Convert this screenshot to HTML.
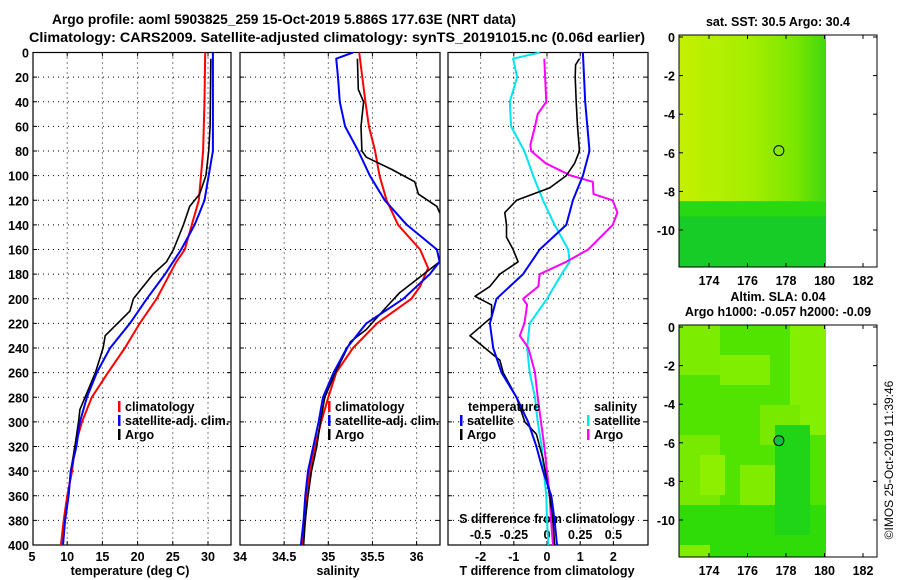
<!DOCTYPE html>
<html><head><meta charset="utf-8"><style>
html,body{margin:0;padding:0;background:#fff;}
svg{display:block;font-family:"Liberation Sans",Arial,sans-serif;font-weight:bold;}
</style></head><body>
<svg id="c" width="900" height="580" viewBox="0 0 900 580" xmlns="http://www.w3.org/2000/svg">
<defs>
<clipPath id="cp1"><rect x="33" y="52" width="198" height="493"/></clipPath>
<clipPath id="cp2"><rect x="240" y="52" width="200" height="493"/></clipPath>
<clipPath id="cp3"><rect x="448" y="52" width="200" height="493"/></clipPath>
<linearGradient id="sstg" x1="0" y1="0" x2="1" y2="0">
<stop offset="0" stop-color="#c4f000"/><stop offset="0.5" stop-color="#a4ee00"/><stop offset="0.8" stop-color="#78e600"/><stop offset="1" stop-color="#40d810"/>
</linearGradient>
</defs>
<text x="52" y="24" font-size="14" textLength="464" lengthAdjust="spacingAndGlyphs">Argo profile: aoml 5903825_259 15-Oct-2019 5.886S 177.63E (NRT data)</text>
<text x="29" y="42" font-size="14" textLength="616" lengthAdjust="spacingAndGlyphs">Climatology: CARS2009. Satellite-adjusted climatology: synTS_20191015.nc (0.06d earlier)</text>
<g id="g1"></g>
<g id="g2"></g>
<g id="g3"></g>
<g id="maps"></g>
<text transform="translate(893,460) rotate(-90)" font-size="12" font-weight="normal" text-anchor="middle">©IMOS 25-Oct-2019 11:39:46</text>
</svg>
<script>
// ---- data ----
const depthTicks=[0,20,40,60,80,100,120,140,160,180,200,220,240,260,280,300,320,340,360,380,400];
const tempTicks=[5,10,15,20,25,30];
const salTicks=[34,34.5,35,35.5,36];
const tdiffTicks=[-2,-1,0,1,2];
const sdiffTicks=[-0.5,-0.25,0,0.25,0.5];
const tClimD=[0,40,80,100,120,140,160,170,200,220,240,260,280,300,320,340,360,380,400];
const tClimV=[29.6,29.5,29.3,29.0,28.7,27.7,26.7,25.5,22.7,20.3,18.2,15.8,13.5,12.1,11.1,10.7,10.0,9.5,9.1];
const tSatD=[0,80,100,120,130,140,160,180,200,220,240,260,280,300,320,340,360,380,400];
const tSatV=[30.7,30.7,30.1,29.5,28.8,28.1,26.2,23.9,21.3,18.9,16.1,14.2,12.8,11.8,11.3,10.5,10.2,9.7,9.4];
const tArgoD=[5,60,80,100,115,125,140,160,170,180,200,210,230,240,260,290,300,320,340,360,380,400];
const tArgoV=[30.4,30.3,30.1,29.7,28.8,27.4,26.5,25.1,24.1,22.2,19.4,18.9,15.4,15.1,14.0,11.8,11.6,11.1,10.5,10.2,9.7,9.4];
const sClimD=[0,40,60,80,100,120,140,160,175,190,200,220,240,260,280,300,320,340,360,380,400];
const sClimV=[35.35,35.42,35.46,35.53,35.58,35.66,35.79,36.04,36.13,36.04,35.94,35.55,35.28,35.09,35.0,34.92,34.85,34.79,34.75,34.74,34.70];
const sSatD=[0,5,20,40,60,80,100,120,140,160,170,180,200,220,240,260,280,300,320,340,360,380,400];
const sSatV=[35.28,35.09,35.11,35.13,35.19,35.34,35.47,35.64,35.89,36.23,36.26,36.15,35.85,35.43,35.21,35.06,34.94,34.89,34.83,34.77,34.74,34.72,34.69];
const sArgoD=[5,30,40,60,80,85,95,105,115,125,130,145,160,170,180,195,205,225,235,260,280,300,320,340,360,380,400];
const sArgoV=[35.33,35.34,35.40,35.37,35.38,35.43,35.72,35.98,36.02,36.23,36.26,36.45,36.45,36.26,36.08,35.81,35.68,35.43,35.25,35.08,34.96,34.91,34.87,34.81,34.77,34.74,34.72];
const dtSatD=[0,40,80,100,120,140,160,180,200,220,240,260,280,300,320,340,360,380,400];
const dtSatV=[1.08,1.15,1.28,1.08,0.78,0.58,-0.22,-0.72,-1.52,-1.72,-1.62,-1.37,-0.92,-0.57,-0.32,-0.12,0.13,0.23,0.3];
const dtArgoD=[5,10,20,40,60,80,90,100,110,120,130,140,150,160,170,180,190,198,205,215,230,250,260,280,300,310,330,360,380,400];
const dtArgoV=[0.98,0.86,0.85,0.88,0.92,0.98,0.83,0.58,0.08,-0.92,-1.27,-1.22,-1.22,-1.02,-0.87,-1.42,-1.72,-2.17,-1.67,-1.67,-2.32,-1.42,-1.32,-0.92,-0.67,-0.32,-0.12,0.08,0.18,0.23];
const dsSatD=[0,5,20,40,60,80,100,120,140,160,170,180,200,220,240,260,280,300,320,340,360,380,400];
const dsSatV=[-0.055,-0.255,-0.225,-0.28,-0.27,-0.17,-0.105,-0.03,0.057,0.16,0.17,0.11,0.0,-0.13,-0.15,-0.13,-0.09,-0.07,-0.04,-0.025,-0.005,0,0.01];
const dsArgoD=[5,30,40,50,60,75,80,90,100,105,115,120,130,140,160,170,180,190,200,205,220,230,240,260,280,300,320,340,360,380,400];
const dsArgoV=[-0.02,-0.01,-0.005,-0.07,-0.09,-0.125,-0.12,-0.01,0.18,0.345,0.35,0.495,0.53,0.495,0.31,0.145,-0.055,-0.065,-0.18,-0.15,-0.17,-0.205,-0.14,-0.09,-0.07,-0.045,-0.02,0,0.02,0.03,0.045];
const lonTicks=[174,176,178,180,182];
const latTicks=[0,-2,-4,-6,-8,-10];
const argoLon=177.63, argoLat=-5.886;

// ---- helpers ----
const NS='http://www.w3.org/2000/svg';
function mk(parent,tag,attrs,txt){const e=document.createElementNS(NS,tag);for(const k in attrs)e.setAttribute(k,attrs[k]);if(txt!==undefined)e.textContent=txt;parent.appendChild(e);return e;}
const Y0=52.5,Y1=545;
function yD(d){return Y0+(d/400)*(Y1-Y0);}
function xT(t){return 32+(t-5)*7.04;}
function xS(s){return 240+(s-34)*88.3;}
function xDT(t){return 547+t*33.2;}
function xDS(s){return 547+s*132.8;}
function path(g,D,V,fx,color,w,name,clip){
  let d='';for(let i=0;i<D.length;i++)d+=(i?'L':'M')+fx(V[i]).toFixed(1)+' '+yD(D[i]).toFixed(1);
  const p=mk(g,'path',{d:d,fill:'none',stroke:color,'stroke-width':w,'stroke-linejoin':'round','clip-path':'url(#'+clip+')'});
  
  
}
function frame(g,x0,x1,gridXs,name){
  depthTicks.forEach(d=>{const y=yD(d);
    if(d>0&&d<400){const l=mk(g,'line',{x1:x0,x2:x1,y1:y,y2:y,stroke:'#000','stroke-width':1,'stroke-dasharray':'1,4'});
    
    }
    mk(g,'line',{x1:x0,x2:x0+4,y1:y,y2:y,stroke:'#000'});mk(g,'line',{x1:x1-4,x2:x1,y1:y,y2:y,stroke:'#000'});
  });
  gridXs.forEach(x=>{const l=mk(g,'line',{x1:x,x2:x,y1:Y0,y2:Y1,stroke:'#000','stroke-width':1,'stroke-dasharray':'1,4'});
    
    
    mk(g,'line',{x1:x,x2:x,y1:Y0,y2:Y0+4,stroke:'#000'});mk(g,'line',{x1:x,x2:x,y1:Y1-4,y2:Y1,stroke:'#000'});});
  const r=mk(g,'rect',{x:x0,y:Y0,width:x1-x0,height:Y1-Y0,fill:'none',stroke:'#000','stroke-width':1.2});
  
  
}
function legend(g,x,y,color,label,name){
  mk(g,'rect',{x:x,y:y-10,width:2.5,height:11,fill:color});
  const t=mk(g,'text',{x:x+7,y:y,'font-size':12.5},label);
  
  
}
const LY=[411,425,439];
const TICKY=561, TITLEY=575;

// ---- panel 1: temperature ----
const g1=document.getElementById('g1');
frame(g1,33,231,tempTicks.slice(1).map(xT),'temperature-axes');
depthTicks.forEach(d=>{const t=mk(g1,'text',{x:29,y:yD(d)+5,'font-size':12.5,'text-anchor':'end'},d);
  
  });
tempTicks.forEach(v=>{const t=mk(g1,'text',{x:xT(v),y:TICKY,'font-size':12.5,'text-anchor':'middle'},v);
  
  });
const xt1=mk(g1,'text',{x:130,y:TITLEY,'font-size':12.5,'text-anchor':'middle'},'temperature (deg C)');


path(g1,tClimD,tClimV,xT,'#ff0000',2,'temp-climatology-line','cp1');
path(g1,tArgoD,tArgoV,xT,'#000000',1.6,'temp-argo-line','cp1');
path(g1,tSatD,tSatV,xT,'#0000ff',2,'temp-satellite-line','cp1');
legend(g1,118,LY[0],'#ff0000','climatology','legend-climatology');
legend(g1,118,LY[1],'#0000ff','satellite-adj. clim.','legend-satellite');
legend(g1,118,LY[2],'#000000','Argo','legend-argo');

// ---- panel 2: salinity ----
const g2=document.getElementById('g2');
frame(g2,240,440,[34.5,35,35.5,36].map(xS),'salinity-axes');
salTicks.forEach(v=>{const t=mk(g2,'text',{x:xS(v),y:TICKY,'font-size':12.5,'text-anchor':'middle'},v);
  
  });
const xt2=mk(g2,'text',{x:338,y:TITLEY,'font-size':12.5,'text-anchor':'middle'},'salinity');


path(g2,sClimD,sClimV,xS,'#ff0000',2,'sal-climatology-line','cp2');
path(g2,sArgoD,sArgoV,xS,'#000000',1.6,'sal-argo-line','cp2');
path(g2,sSatD,sSatV,xS,'#0000ff',2,'sal-satellite-line','cp2');
legend(g2,328,LY[0],'#ff0000','climatology','legend-climatology');
legend(g2,328,LY[1],'#0000ff','satellite-adj. clim.','legend-satellite');
legend(g2,328,LY[2],'#000000','Argo','legend-argo');

// ---- panel 3: differences ----
const g3=document.getElementById('g3');
frame(g3,448,648,tdiffTicks.map(xDT),'difference-axes');
tdiffTicks.forEach(v=>{const t=mk(g3,'text',{x:xDT(v),y:TICKY,'font-size':12.5,'text-anchor':'middle'},v);
  
  });
sdiffTicks.forEach(v=>{const t=mk(g3,'text',{x:xDS(v),y:539,'font-size':12.5,'text-anchor':'middle'},v);
  
  });
const xt3=mk(g3,'text',{x:547,y:TITLEY,'font-size':12.5,'text-anchor':'middle'},'T difference from climatology');


const xt4=mk(g3,'text',{x:547,y:523,'font-size':12.5,'text-anchor':'middle'},'S difference from climatology');


path(g3,dsSatD,dsSatV,xDS,'#00e5ee',2,'sdiff-satellite-line','cp3');
path(g3,dsArgoD,dsArgoV,xDS,'#ff00ff',2,'sdiff-argo-line','cp3');
path(g3,dtArgoD,dtArgoV,xDT,'#000000',1.6,'tdiff-argo-line','cp3');
path(g3,dtSatD,dtSatV,xDT,'#0000ff',2,'tdiff-satellite-line','cp3');
const lt=mk(g3,'text',{x:468,y:LY[0],'font-size':12.5},'temperature');


legend(g3,460,LY[1],'#0000ff','satellite','legend-t-satellite');
legend(g3,460,LY[2],'#000000','Argo','legend-t-argo');
const ls=mk(g3,'text',{x:594,y:LY[0],'font-size':12.5},'salinity');


legend(g3,587,LY[1],'#00e5ee','satellite','legend-s-satellite');
legend(g3,587,LY[2],'#ff00ff','Argo','legend-s-argo');

// ---- maps ----
const gm=document.getElementById('maps');
function map(top,kind,titles){
  const MX0=679,MX1=877,MY0=top,MY1=top+232;
  const xL=l=>709+(l-174)*19.25, yL=l=>MY0+2+(-l)*19.3;
  if(kind==='sst'){
    mk(gm,'rect',{x:MX0,y:MY0,width:826-MX0,height:yL(-8.5)-MY0,fill:'url(#sstg)'});
    mk(gm,'rect',{x:MX0,y:yL(-8.5),width:826-MX0,height:MY1-yL(-8.5),fill:'#28d810'});
    mk(gm,'rect',{x:MX0,y:yL(-9.3),width:826-MX0,height:MY1-yL(-9.3),fill:'#18cc28'});
  } else {
    mk(gm,'rect',{x:MX0,y:MY0,width:826-MX0,height:MY1-MY0,fill:'#50e400'});
    [[680,MY0,40,50,'#7cec00'],[720,MY0+30,50,30,'#80ee00'],[790,MY0,36,110,'#84f000'],[680,MY0+110,40,70,'#78ea00'],[700,MY0+130,25,40,'#8cf000'],[760,MY0+80,40,40,'#78ea00'],[740,MY0+140,60,40,'#80ec00'],[680,MY0+180,146,52,'#30dc08'],[775,MY0+100,35,110,'#20d418'],[680,MY0+220,30,12,'#80ec00']]
      .forEach(b=>mk(gm,'rect',{x:b[0],y:b[1],width:b[2],height:b[3],fill:b[4]}));
  }
  const f=mk(gm,'rect',{x:MX0,y:MY0,width:MX1-MX0,height:MY1-MY0,fill:'none',stroke:'#000','stroke-width':1});
  
  
  lonTicks.forEach(l=>{const x=xL(l);mk(gm,'line',{x1:x,x2:x,y1:MY0,y2:MY0+4,stroke:'#000'});mk(gm,'line',{x1:x,x2:x,y1:MY1-4,y2:MY1,stroke:'#000'});
    const t=mk(gm,'text',{x:x,y:MY1+18,'font-size':12.5,'text-anchor':'middle'},l);
    
    });
  latTicks.forEach(l=>{const y=yL(l);mk(gm,'line',{x1:MX0,x2:MX0+4,y1:y,y2:y,stroke:'#000'});mk(gm,'line',{x1:MX1-4,x2:MX1,y1:y,y2:y,stroke:'#000'});
    const t=mk(gm,'text',{x:675,y:y+5,'font-size':12.5,'text-anchor':'end'},l);
    
    });
  const c=mk(gm,'circle',{cx:xL(argoLon),cy:yL(argoLat),r:5,fill:kind==='sst'?'none':'#10c040',stroke:'#000','stroke-width':1});
  
  
  titles.forEach((s,i)=>{const t=mk(gm,'text',{x:778,y:top-(titles.length-i-1)*15-9,'font-size':12.5,'text-anchor':'middle'},s);
    
    });
}
map(35,'sst',['sat. SST: 30.5 Argo: 30.4']);
map(325,'sla',['Altim. SLA: 0.04','Argo h1000: -0.057 h2000: -0.09']);
</script>
</body></html>
